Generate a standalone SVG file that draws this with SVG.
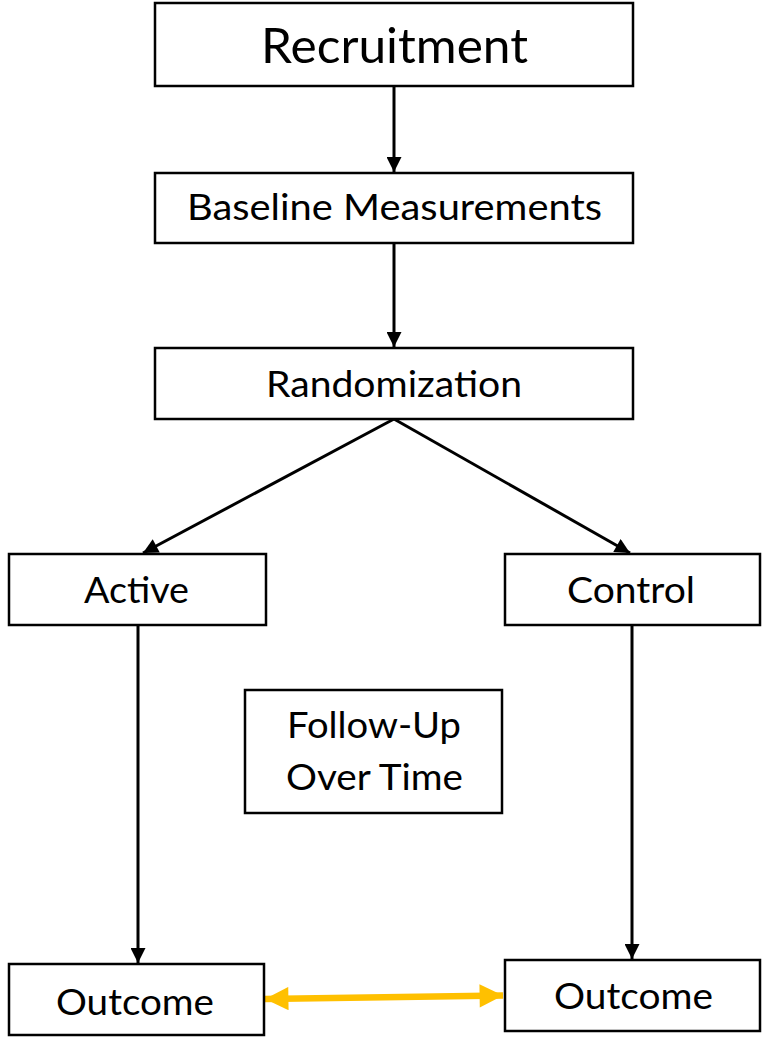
<svg xmlns="http://www.w3.org/2000/svg" width="762" height="1038" viewBox="0 0 762 1038">
  <style>
    .box { fill: #ffffff; stroke: #000000; stroke-width: 2.5; }
    .lbl { font-family: Lato, "Open Sans", "Liberation Sans", sans-serif; font-size: 36px; fill: #000000; text-anchor: middle; }
    .conn { stroke: #000000; stroke-width: 3; fill: none; }
    .both { stroke: #FFC000; stroke-width: 6.5; fill: none; }
  </style>
  <defs>
    <marker id="arrow" viewBox="0 0 10 10" refX="10" refY="5" markerWidth="5.5" markerHeight="5" orient="auto" markerUnits="strokeWidth">
      <path d="M0,0 L10,5 L0,10 Z" fill="#000000"/>
    </marker>
    <marker id="gold" viewBox="0 0 10 10" refX="10" refY="5" markerWidth="3.7" markerHeight="3.6" orient="auto-start-reverse" markerUnits="strokeWidth">
      <path d="M0,0 L10,5 L0,10 Z" fill="#FFC000"/>
    </marker>
  </defs>
  <rect width="762" height="1038" fill="#ffffff"/>

  <g id="connectors">
    <line class="conn" x1="394" y1="86" x2="394" y2="172" marker-end="url(#arrow)"/>
    <line class="conn" x1="394" y1="243" x2="394" y2="347" marker-end="url(#arrow)"/>
    <line class="conn" x1="394" y1="419" x2="143" y2="553" marker-end="url(#arrow)"/>
    <line class="conn" x1="394" y1="419" x2="630" y2="553" marker-end="url(#arrow)"/>
    <line class="conn" x1="138" y1="625" x2="138" y2="963" marker-end="url(#arrow)"/>
    <line class="conn" x1="632" y1="625" x2="632" y2="959" marker-end="url(#arrow)"/>
    <line class="both" x1="265" y1="999" x2="503" y2="995.5" marker-start="url(#gold)" marker-end="url(#gold)"/>
  </g>

  <g id="recruitment">
    <rect class="box" x="155" y="3" width="478" height="83"/>
    <text class="lbl" x="394.5" y="63" style="font-size:49px" textLength="267" lengthAdjust="spacingAndGlyphs">Recruitment</text>
  </g>
  <g id="baseline">
    <rect class="box" x="155" y="173" width="478" height="70"/>
    <text class="lbl" x="394.5" y="220" textLength="415" lengthAdjust="spacingAndGlyphs">Baseline Measurements</text>
  </g>
  <g id="randomization">
    <rect class="box" x="155" y="348" width="478" height="71"/>
    <text class="lbl" x="394" y="397" textLength="256" lengthAdjust="spacingAndGlyphs">Randomization</text>
  </g>
  <g id="active">
    <rect class="box" x="9" y="554" width="257" height="71"/>
    <text class="lbl" x="136.5" y="603" textLength="105" lengthAdjust="spacingAndGlyphs">Active</text>
  </g>
  <g id="control">
    <rect class="box" x="505" y="554" width="255" height="71"/>
    <text class="lbl" x="631" y="603" textLength="128" lengthAdjust="spacingAndGlyphs">Control</text>
  </g>
  <g id="follow-up">
    <rect class="box" x="245" y="690" width="257" height="123"/>
    <text class="lbl" x="374" y="738" textLength="174" lengthAdjust="spacingAndGlyphs">Follow-Up</text>
    <text class="lbl" x="374.5" y="790" textLength="177" lengthAdjust="spacingAndGlyphs">Over Time</text>
  </g>
  <g id="outcome-active">
    <rect class="box" x="9" y="964" width="255" height="71"/>
    <text class="lbl" x="135" y="1015" textLength="158" lengthAdjust="spacingAndGlyphs">Outcome</text>
  </g>
  <g id="outcome-control">
    <rect class="box" x="505" y="960" width="255" height="71"/>
    <text class="lbl" x="633.5" y="1009" textLength="159" lengthAdjust="spacingAndGlyphs">Outcome</text>
  </g>
</svg>
